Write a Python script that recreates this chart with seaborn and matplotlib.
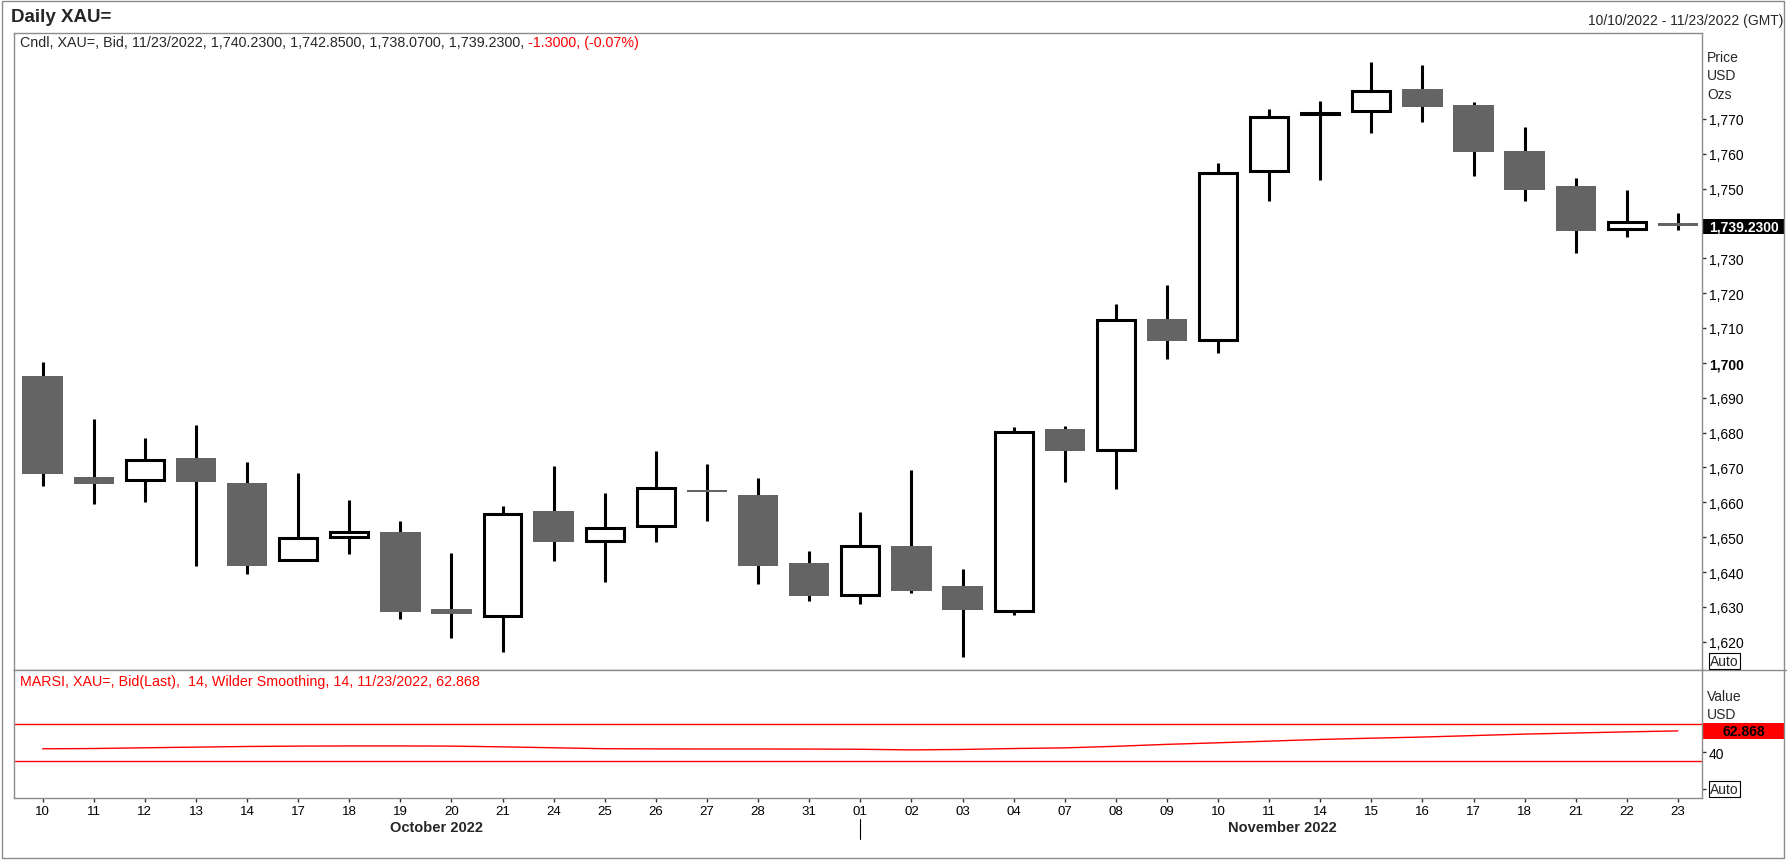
import matplotlib.pyplot as plt
import matplotlib.transforms as mtransforms
from matplotlib.lines import Line2D
from matplotlib.patches import Rectangle
import numpy as np
import seaborn as sns

sns.set_theme(style="white")
plt.rcParams["font.family"] = ["Liberation Sans", "DejaVu Sans"]

# Daily XAU= bid candles, 10 Oct - 23 Nov 2022
days = ["10", "11", "12", "13", "14", "17", "18", "19", "20", "21", "24", "25",
        "26", "27", "28", "31", "01", "02", "03", "04", "07", "08", "09", "10",
        "11", "14", "15", "16", "17", "18", "21", "22", "23"]
opens = [1696.1, 1667.3, 1666.3, 1672.8, 1665.4, 1643.5, 1650.0, 1651.6, 1629.4,
         1627.4, 1657.4, 1648.9, 1653.2, 1663.6, 1662.2, 1642.7, 1633.4, 1647.6,
         1635.9, 1628.9, 1681.1, 1675.0, 1712.6, 1706.5, 1755.0, 1771.3, 1772.2,
         1778.4, 1774.0, 1760.8, 1750.8, 1738.5, 1740.23]
highs = [1700.1, 1684.0, 1678.3, 1682.3, 1671.7, 1668.3, 1660.8, 1654.5, 1645.6,
         1658.8, 1670.3, 1662.8, 1674.8, 1671.1, 1667.1, 1645.9, 1657.1, 1669.4,
         1641.0, 1681.6, 1682.0, 1716.9, 1722.4, 1757.4, 1772.9, 1775.2, 1786.3,
         1785.3, 1774.8, 1767.7, 1753.1, 1749.6, 1742.85]
lows = [1664.6, 1659.5, 1660.0, 1641.7, 1639.4, 1643.5, 1645.1, 1626.5, 1621.0,
        1617.0, 1643.1, 1637.1, 1648.6, 1654.6, 1636.6, 1631.7, 1630.8, 1634.0,
        1615.6, 1627.7, 1665.7, 1663.7, 1701.1, 1702.8, 1746.3, 1752.3, 1765.8,
        1769.2, 1753.5, 1746.3, 1731.6, 1736.1, 1738.07]
closes = [1668.1, 1665.3, 1672.2, 1665.8, 1641.7, 1649.8, 1651.6, 1628.5, 1627.9,
          1656.5, 1648.6, 1652.5, 1664.2, 1662.9, 1641.7, 1633.1, 1647.4, 1634.7,
          1629.0, 1680.1, 1674.7, 1712.4, 1706.2, 1754.4, 1770.5, 1771.7, 1778.0,
          1773.5, 1760.6, 1749.7, 1737.7, 1740.4, 1739.23]

# MARSI 14 (Wilder) as drawn in the lower pane
rsi = [43.5, 43.8, 44.6, 45.3, 46.0, 46.4, 46.6, 46.6, 46.4, 45.6, 44.6, 43.6,
       43.4, 43.3, 43.3, 43.2, 43.0, 42.3, 42.8, 43.8, 44.5, 46.2, 48.3, 50.0,
       51.8, 53.6, 55.0, 56.2, 57.8, 59.4, 60.6, 61.8, 62.868]
rsi_bands = [70, 30]

price_ticks = list(range(1620, 1771, 10))
months = ["October 2022", "November 2022"]
month_pos = [7.7, 24.25]

W, H = 1788, 862
GRID = "#8c8c8c"


def px_rect(l, t, r, b):
    return [l / W, 1 - b / H, (r - l) / W, (b - t) / H]


def fx(px):
    return px / W


def fy(py):
    return 1 - py / H


fig = plt.figure(figsize=(W / 100, H / 100), dpi=100)
fig.patch.set_facecolor("white")

ax_p = fig.add_axes(px_rect(14, 34, 1702, 671))
ax_r = fig.add_axes(px_rect(14, 671, 1702, 799), sharex=ax_p)

o = np.array(opens)
c = np.array(closes)
x = np.arange(len(days))
up = c >= o
dn = ~up

# candles: wicks first, bodies on top
ax_p.vlines(x, lows, highs, color="black", linewidth=2.2, zorder=1)
ax_p.bar(x[dn], (o - c)[dn], bottom=c[dn], width=0.79, color="#646464",
         edgecolor="none", zorder=2)
ax_p.bar(x[up], (c - o)[up], bottom=o[up], width=0.74, facecolor="white",
         edgecolor="black", linewidth=2.2, zorder=2)

ax_p.set_xlim(-0.56, len(days) - 0.53)
ax_p.set_ylim(1611.9, 1794.6)
ax_p.yaxis.tick_right()
# the 1,740 label sits under the last-price box
ax_p.set_yticks(price_ticks,
                labels=["" if v == 1740 else f"{v:,}" for v in price_ticks])
for lbl in ax_p.get_yticklabels():
    if lbl.get_text() == "1,700":
        lbl.set_fontweight("bold")
ax_p.tick_params(axis="y", direction="out", length=3, width=1, colors="#333333",
                 labelcolor="black", labelsize=10, pad=2)
ax_p.tick_params(axis="x", bottom=False, labelbottom=False)

# RSI pane
sns.lineplot(x=x, y=rsi, ax=ax_r, color="red", linewidth=1.0, legend=False)
for lvl in rsi_bands:
    ax_r.axhline(lvl, color="red", linewidth=1.0)
ax_r.set_ylim(-9.7, 128.7)
ax_r.yaxis.tick_right()
ax_r.set_yticks([0, 40], labels=["", "40"])
ax_r.tick_params(axis="y", direction="out", length=3, width=1, colors="#333333",
                 labelcolor="black", labelsize=10, pad=2)
ax_r.set_xticks(x, labels=days)
ax_r.tick_params(axis="x", direction="out", length=3, width=1, colors="#333333",
                 labelcolor="black", labelsize=9.5, pad=2, bottom=True)
ax_r.set_xlabel("")
ax_r.set_ylabel("")

for ax in (ax_p, ax_r):
    ax.set_facecolor("white")
    for sp in ax.spines.values():
        sp.set_color(GRID)
        sp.set_linewidth(1.0)
        sp.set_visible(True)

# month labels and separator
bt = mtransforms.blended_transform_factory(ax_r.transData, fig.transFigure)
for name, pos in zip(months, month_pos):
    ax_r.text(pos, fy(828), name, transform=bt, ha="center", va="center",
              fontsize=10.5, fontweight="bold")
ax_r.add_line(Line2D([16, 16], [fy(820), fy(840)], transform=bt, color="black",
                     linewidth=0.8, clip_on=False))

# outer frame and pane divider
fig.add_artist(Rectangle((fx(2), fy(859)), fx(1782), 857 / H, transform=fig.transFigure,
                         fill=False, edgecolor=GRID, linewidth=1.0))
fig.add_artist(Line2D([fx(1702), fx(1786)], [fy(671), fy(671)],
                      transform=fig.transFigure, color=GRID, linewidth=1.0))

# titles and headers
fig.text(fx(11), fy(17), "Daily XAU=", fontsize=13.5, fontweight="bold",
         ha="left", va="center")
fig.text(fx(1783), fy(21), "10/10/2022 - 11/23/2022 (GMT)", fontsize=10,
         ha="right", va="center")
head = fig.text(fx(20), fy(43), "Cndl, XAU=, Bid, 11/23/2022, 1,740.2300, 1,742.8500, "
                "1,738.0700, 1,739.2300, ", fontsize=10.3, ha="left", va="center")
fig.canvas.draw()
bb = head.get_window_extent()
fig.text(bb.x1 / W, fy(43), "-1.3000, (-0.07%)", fontsize=10.3, color="red",
         ha="left", va="center")
fig.text(fx(20), fy(682), "MARSI, XAU=, Bid(Last),  14, Wilder Smoothing, 14, 11/23/2022, 62.868",
         fontsize=10.3, color="red", ha="left", va="center")

# right-side labels
for txt, py in zip(["Price", "USD", "Ozs"], [58, 76, 95]):
    fig.text(fx(1707), fy(py), txt, fontsize=10, ha="left", va="center")
for txt, py in zip(["Value", "USD"], [697, 715]):
    fig.text(fx(1707), fy(py), txt, fontsize=10, ha="left", va="center")

# last value boxes
box_w = (1785 - 1702) / (1702 - 14)
tp = mtransforms.blended_transform_factory(ax_p.transAxes, ax_p.transData)
ax_p.add_patch(Rectangle((1.0, closes[-1] - 2.15), box_w, 4.3, transform=tp,
                         facecolor="black", edgecolor="none", clip_on=False))
ax_p.text(1.0 + box_w / 2, closes[-1], f"{closes[-1]:,.4f}", transform=tp,
          color="white", fontsize=10, fontweight="bold", ha="center", va="center")
tr = mtransforms.blended_transform_factory(ax_r.transAxes, ax_r.transData)
ax_r.add_patch(Rectangle((1.0, rsi[-1] - 8.6), box_w, 17.2, transform=tr,
                         facecolor="red", edgecolor="none", clip_on=False))
ax_r.text(1.0 + box_w / 2, rsi[-1], f"{rsi[-1]:.3f}", transform=tr,
          color="black", fontsize=10, fontweight="bold", ha="center", va="center")

# Auto buttons
for py in [662, 790]:
    fig.text(fx(1710), fy(py), "Auto", fontsize=10, ha="left", va="center",
             bbox=dict(boxstyle="square,pad=0.1", facecolor="white",
                       edgecolor="black", linewidth=0.8))

fig.savefig("out.png", dpi=100, facecolor="white")
